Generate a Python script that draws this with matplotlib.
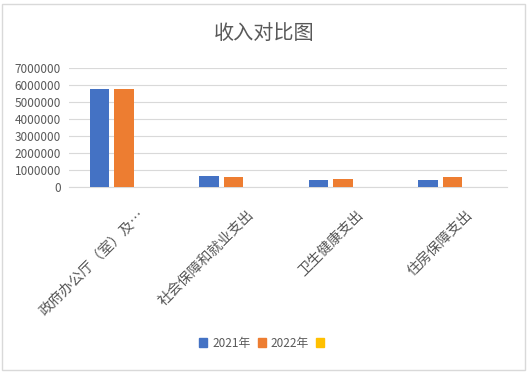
import numpy as np
import matplotlib
matplotlib.use('Agg')
import matplotlib.pyplot as plt
from matplotlib.patches import Rectangle, Patch

plt.rcParams['font.family'] = ['Noto Sans CJK SC', 'DejaVu Sans']

categories = ['政府办公厅（室）及…', '社会保障和就业支出', '卫生健康支出', '住房保障支出']
series_names = ['2021年', '2022年', '']
vals_2021 = [5780000, 650000, 410000, 410000]
vals_2022 = [5780000, 590000, 470000, 590000]
vals_3 = [np.nan, np.nan, np.nan, np.nan]
yticks = [0, 1000000, 2000000, 3000000, 4000000, 5000000, 6000000, 7000000]

colors = ['#4472C4', '#ED7D31', '#FFC000']
txt = '#595959'
grid = '#D9D9D9'

fig = plt.figure(figsize=(5.28, 3.74), dpi=100)
ax = fig.add_axes([69.25/528, 1-187/374, 438/528, (187-68.3)/374])

x = np.arange(len(categories))
w = 0.178
off = 0.224
for i, v in enumerate([vals_2021, vals_2022, vals_3]):
    ax.bar(x + (i-1)*off, v, width=w, color=colors[i], zorder=3)

ax.set_xlim(-0.5, len(categories)-0.5)
ax.set_ylim(0, 7000000)
ax.set_yticks(yticks)
ax.set_yticklabels([str(t) for t in yticks], fontsize=8.5, color=txt)
ax.yaxis.grid(True, color=grid, lw=0.8, zorder=0)
ax.tick_params(axis='y', length=0, pad=6)
ax.tick_params(axis='x', length=0, pad=15)
for s in ['left', 'right', 'top']:
    ax.spines[s].set_visible(False)
ax.spines['bottom'].set_color(grid)
ax.set_xticks(x + 0.12)
ax.set_xticklabels(categories, rotation=45, ha='right', rotation_mode='anchor',
                   fontsize=10.3, color=txt)

fig.text(0.5, 1-33/374, '收入对比图', ha='center', va='center', fontsize=14.5, color=txt)

handles = [Patch(color=c) for c in colors]
fig.legend(handles, series_names, loc='center', bbox_to_anchor=(0.5, 1-343/374),
           ncol=3, frameon=False, fontsize=8.5, handlelength=0.7, handleheight=0.7,
           handletextpad=0.4, columnspacing=0.6, labelcolor=txt)

fig.patches.append(Rectangle((2/528, 4/374), 523/528, 366/374, transform=fig.transFigure,
                             fill=False, edgecolor=grid, lw=1))

fig.savefig('out.png', dpi=100)
